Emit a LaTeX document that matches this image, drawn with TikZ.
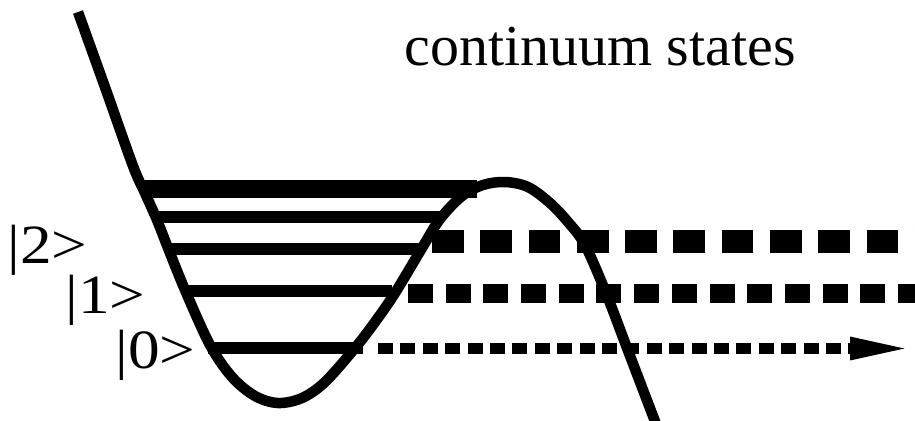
\documentclass[tikz,border=0pt]{standalone}
\usepackage{fontspec}
\setmainfont{Liberation Serif}
\usetikzlibrary{arrows.meta}
\begin{document}
\begin{tikzpicture}[x=0.02cm, y=-0.02cm,
  pot/.style={line width=0.21cm, line join=round},
  level/.style={line width=0.24cm},
  toplevel/.style={line width=0.36cm},
  bigdash/.style={line width=0.46cm, dash pattern=on 0.634cm off 0.332cm},
  middash/.style={line width=0.38cm, dash pattern=on 0.5cm off 0.254cm},
  smalldash/.style={line width=0.22cm, dash pattern=on 0.3cm off 0.148cm, -{Triangle[length=1.3cm, width=0.4cm]}},
  lbl/.style={anchor=base west, inner sep=0pt, font=\fontsize{30pt}{30pt}\selectfont},
  title/.style={anchor=base west, inner sep=0pt, font=\fontsize{33pt}{33pt}\selectfont}]
\useasboundingbox (0,0) rectangle (915,420);
% level coordinates
\coordinate (t0) at (142,189); \coordinate (t1) at (477,189);
\coordinate (a0) at (155,217); \coordinate (a1) at (442,217);
\coordinate (b0) at (166,249); \coordinate (b1) at (423,249);
\coordinate (c0) at (183,291); \coordinate (c1) at (392,291);
\coordinate (d0) at (208,347.5); \coordinate (d1) at (363,347.5);
\coordinate (e0) at (432,241.5); \coordinate (e1) at (915,241.5);
\coordinate (f0) at (408,293); \coordinate (f1) at (915,293);
\coordinate (g0) at (378,348.5); \coordinate (g1) at (915,348.5);
% levels
\draw[toplevel] (t0) -- (t1);
\draw[level] (a0) -- (a1);
\draw[level] (b0) -- (b1);
\draw[level] (c0) -- (c1);
\draw[level] (d0) -- (d1);
% continuum
\draw[bigdash] (e0) -- (e1);
\draw[middash] (f0) -- (f1);
\draw[smalldash] (g0) -- (g1);
% potential curve
\draw[pot] plot[smooth, tension=0.55] coordinates {
 (78,12) (106,90) (133,166) (145,193) (157,220) (168,248) (185,290) (210,345)
 (232,377) (255,396) (278,403) (302,398) (325,382) (355,348) (375,322) (395,293)
 (422,248) (440,219) (462,196) (483,185) (505,182) (528,187) (550,203) (568,222)
 (585,245) (606,293) (627,348) (656,424)};
% labels
\node[title] (ttl) at (404,65) {continuum states};
\node[lbl] (l2) at (7,263) {\scalebox{1.2}[1.05]{|2>}};
\node[lbl] (l1) at (65,313) {\scalebox{1.2}[1.05]{|1>}};
\node[lbl] (l0) at (115,368) {\scalebox{1.2}[1.05]{|0>}};
\end{tikzpicture}
\end{document}
